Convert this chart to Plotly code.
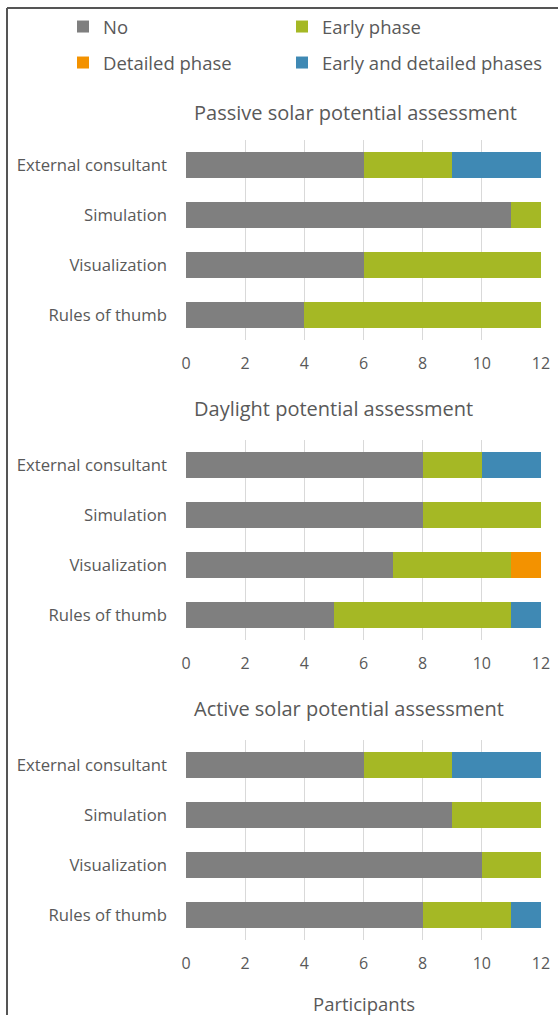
import plotly.graph_objects as go

# ---------------- data ----------------
categories = ["External consultant", "Simulation", "Visualization", "Rules of thumb"]
series_names = ["No", "Early phase", "Detailed phase", "Early and detailed phases"]
series_colors = ["#7f7f7f", "#a5b825", "#f39200", "#3f89b4"]
panel_titles = ["Passive solar potential assessment",
                "Daylight potential assessment",
                "Active solar potential assessment"]

passive_no = [6, 11, 6, 4]
passive_early = [3, 1, 6, 8]
passive_detailed = [0, 0, 0, 0]
passive_both = [3, 0, 0, 0]

daylight_no = [8, 8, 7, 5]
daylight_early = [2, 4, 4, 6]
daylight_detailed = [0, 0, 1, 0]
daylight_both = [2, 0, 0, 1]

active_no = [6, 9, 10, 8]
active_early = [3, 3, 2, 3]
active_detailed = [0, 0, 0, 0]
active_both = [3, 0, 0, 1]

x_ticks = [0, 2, 4, 6, 8, 10, 12]
x_title = "Participants"

panels = [
    [passive_no, passive_early, passive_detailed, passive_both],
    [daylight_no, daylight_early, daylight_detailed, daylight_both],
    [active_no, active_early, active_detailed, active_both],
]

# ---------------- layout geometry (pixels) ----------------
W, H = 558, 1015
L, R = 186, 558 - 541
T, B = 140, 1015 - 940
PW, PH = W - L - R, H - T - B

def px_x(p):
    return (p - L) / PW

def px_y(p):
    return (T + PH - p) / PH

panel_px = [(140, 340), (440, 640), (740, 940)]
title_px = [112, 408, 708]
# legend slot positions (item start x, row centre y) for each series
legend_pos = [(63, 27), (282, 27), (63, 63), (282, 63)]
legend_ids = ["legend", "legend2", "legend3", "legend4"]

FONT = "Open Sans"
TXT = "#595959"

fig = go.Figure()
axis_names = ["", "2", "3"]
for pi, vals in enumerate(panels):
    for si, name in enumerate(series_names):
        fig.add_trace(go.Bar(
            y=categories, x=vals[si], orientation="h", name=name,
            marker=dict(color=series_colors[si], line=dict(width=0)),
            xaxis="x" + axis_names[pi], yaxis="y" + axis_names[pi],
            legendgroup=name, showlegend=(pi == 0),
            legend=legend_ids[si],
        ))

layout = dict(
    width=W, height=H,
    margin=dict(l=L, r=R, t=T, b=B, autoexpand=False),
    barmode="stack", bargap=0.48,
    paper_bgcolor="white", plot_bgcolor="white",
    font=dict(family=FONT, size=16, color=TXT),
)
for pi in range(3):
    top, bot = panel_px[pi]
    sfx = axis_names[pi]
    layout["xaxis" + sfx] = dict(
        range=[0, 12], tickvals=x_ticks, showgrid=True, gridcolor="#d9d9d9",
        gridwidth=1, zeroline=False, showline=False, ticks="",
        tickfont=dict(size=16, color=TXT), anchor="y" + sfx, ticklabelstandoff=12,
        domain=[0, 1], automargin=False,
    )
    layout["yaxis" + sfx] = dict(
        domain=[px_y(bot), px_y(top)], autorange="reversed", showgrid=False,
        showline=False, ticks="", tickfont=dict(size=16.7, color=TXT),
        anchor="x" + sfx, ticklabelstandoff=18, automargin=False,
    )

for lid, (lx, ly) in zip(legend_ids, legend_pos):
    layout[lid] = dict(orientation="h", xanchor="left", yanchor="middle",
                       xref="container", yref="container",
                       x=lx / W, y=1 - ly / H,
                       font=dict(size=18.5, color=TXT), bgcolor="rgba(0,0,0,0)")

annotations = []
for pi, t in enumerate(panel_titles):
    annotations.append(dict(text=t, x=px_x(192), y=px_y(title_px[pi]), xref="paper", yref="paper",
                            xanchor="left", yanchor="middle", showarrow=False,
                            font=dict(size=20, color=TXT)))
annotations.append(dict(text=x_title, x=0.5, y=px_y(1003), xref="paper", yref="paper",
                        xanchor="center", yanchor="middle", showarrow=False,
                        font=dict(size=18.5, color=TXT)))
layout["annotations"] = annotations

# outer chart-area border (top and left edges visible)
layout["shapes"] = [
    dict(type="line", xref="paper", yref="paper", x0=px_x(7), x1=px_x(560), y0=px_y(8), y1=px_y(8),
         line=dict(color="#555555", width=2)),
    dict(type="line", xref="paper", yref="paper", x0=px_x(7), x1=px_x(7), y0=px_y(8), y1=px_y(1017),
         line=dict(color="#555555", width=2)),
]

fig.update_layout(**layout)
fig.write_html("out.html", config={"displayModeBar": False},
               post_script="document.body.style.margin='0';document.body.style.padding='0';")
